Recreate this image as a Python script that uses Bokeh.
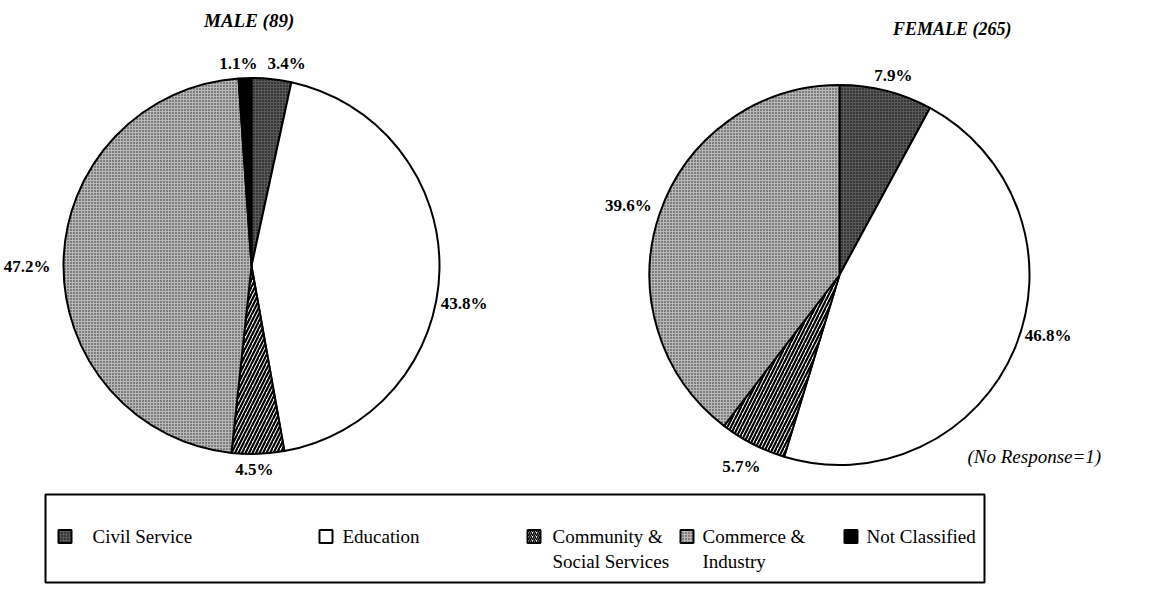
import math
from bokeh.plotting import figure
from bokeh.models import ColumnDataSource, Range1d
from bokeh.core.properties import value
from bokeh.embed import file_html
from bokeh.resources import INLINE

# ---------------- data ----------------
categories = ["Civil Service", "Education", "Community & Social Services",
              "Commerce & Industry", "Not Classified"]
legend_labels = ["Civil Service", "Education", "Community &\nSocial Services",
                 "Commerce &\nIndustry", "Not Classified"]
male_pct = [3.4, 43.8, 4.5, 47.2, 1.1]
female_pct = [7.9, 46.8, 5.7, 39.6, 0.0]
male_title = "MALE  (89)"
female_title = "FEMALE  (265)"
note = "(No Response=1)"

# ---------------- styles ----------------
fills = ["#5a5a5a", "#ffffff", "#ffffff", "#b8b8b8", "#000000"]
hatches = ["dot", " ", "right_diagonal_line", "dot", " "]
hatch_cols = ["#000000", "#000000", "#000000", "#222222", "#000000"]
hatch_scales = [3.0, 6.0, 7.0, 3.0, 6.0]
hatch_weights = [1.0, 1.0, 2.2, 1.2, 1.0]
SERIF = value("Liberation Serif")

W, H = 1138, 587
p = figure(width=W, height=H, output_backend="svg", toolbar_location=None,
           x_range=Range1d(8, 8 + W), y_range=Range1d(603 - 8 - H, 603 - 8),
           min_border=0)
p.axis.visible = False
p.grid.visible = False
p.outline_line_color = None
p.background_fill_color = "white"


def Y(v):  # image-row -> data y
    return 603 - v


def draw_pie(cx, cy, r, pcts, label_layout):
    cum = 0.0
    starts, ends = [], []
    for v in pcts:
        starts.append(math.pi / 2 - 2 * math.pi * cum / 100.0)
        cum += v
        ends.append(math.pi / 2 - 2 * math.pi * cum / 100.0)
    keep = [i for i, v in enumerate(pcts) if v > 0]
    src = ColumnDataSource(dict(
        start=[starts[i] for i in keep], end=[ends[i] for i in keep],
        fill=[fills[i] for i in keep], hatch=[hatches[i] for i in keep],
        hcol=[hatch_cols[i] for i in keep], hs=[hatch_scales[i] for i in keep],
        hw=[hatch_weights[i] for i in keep]))
    p.wedge(x=cx, y=Y(cy), radius=r, start_angle="start", end_angle="end",
            direction="clock", source=src, fill_color="fill",
            hatch_pattern="hatch", hatch_color="hcol", hatch_scale="hs",
            hatch_weight="hw", line_color="black", line_width=2)
    # labels: at slice mid angle (+ nudge in degrees), radius, alignment
    xs, ys, txt, al = [], [], [], []
    for i, v in enumerate(pcts):
        if v <= 0:
            continue
        dang, rr, align = label_layout[i]
        mid = (starts[i] + ends[i]) / 2 - math.radians(dang)
        xs.append(cx + rr * math.cos(mid))
        ys.append(Y(cy) + rr * math.sin(mid))
        txt.append(f"{v}%")
        al.append(align)
    lsrc = ColumnDataSource(dict(x=xs, y=ys, t=txt, a=al))
    p.text(x="x", y="y", text="t", text_align="a", text_baseline="middle",
           source=lsrc, text_font=SERIF, text_font_size="17px",
           text_font_style="bold", text_color="black")


# male pie
draw_pie(259, 273.5, 188, male_pct,
         [(-1.6, 203, "left"), (10.1, 193, "left"), (1.2, 204, "center"),
          (-1.2, 201, "right"), (3.7, 203, "right")])
# female pie
draw_pie(847, 282.5, 190, female_pct,
         [(0.9, 207, "center"), (-4.5, 195, "left"), (0, 215, "center"),
          (1.5, 200, "right"), (0, 205, "right")])

# titles
p.text(x=[259], y=[Y(28)], text=[male_title], text_align="center",
       text_baseline="alphabetic", text_font=SERIF, text_font_size="19px",
       text_font_style="bold italic")
p.text(x=[962], y=[Y(36)], text=[female_title], text_align="center",
       text_baseline="alphabetic", text_font=SERIF, text_font_size="18px",
       text_font_style="bold italic")
p.text(x=[975], y=[Y(464)], text=[note], text_align="left",
       text_baseline="alphabetic", text_font=SERIF, text_font_size="19px",
       text_font_style="italic")

# legend box
p.quad(left=[53], right=[992], top=[Y(502)], bottom=[Y(590)],
       fill_color=None, line_color="black", line_width=2)
sq_x = [66, 327, 535, 688, 852]
tx_x = [100, 350, 560, 710, 874]
lsq = ColumnDataSource(dict(x=[v + 6.5 for v in sq_x], y=[Y(544)] * 5,
                            fill=fills, hatch=hatches, hcol=hatch_cols,
                            hs=[min(s, 4) for s in hatch_scales],
                            hw=[min(w, 1.5) for w in hatch_weights]))
p.rect(x="x", y="y", width=13, height=13, source=lsq, fill_color="fill",
       hatch_pattern="hatch", hatch_color="hcol", hatch_scale="hs",
       hatch_weight="hw", line_color="black", line_width=2)
ltx = ColumnDataSource(dict(x=tx_x, y=[Y(533)] * 5, t=legend_labels))
p.text(x="x", y="y", text="t", source=ltx, text_align="left",
       text_baseline="top", text_font=SERIF, text_font_size="19px",
       text_line_height=1.2, text_color="black")

open("out.html", "w").write(file_html(p, INLINE))
